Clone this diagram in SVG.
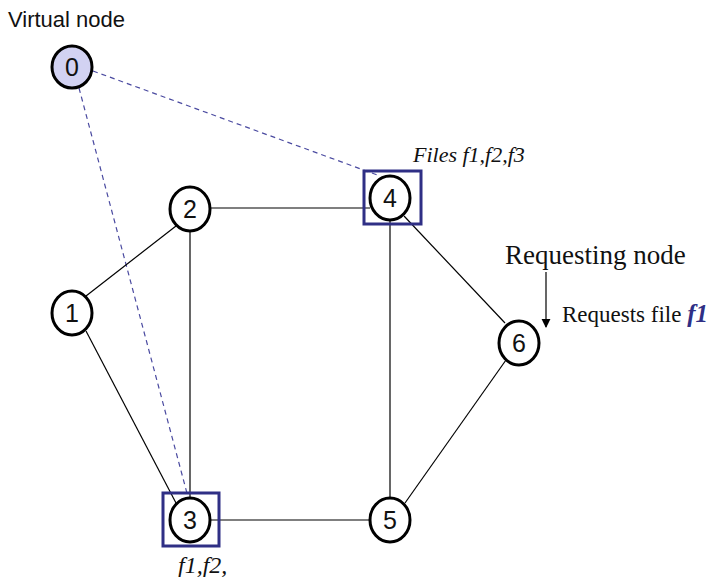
<svg xmlns="http://www.w3.org/2000/svg" width="726" height="577" viewBox="0 0 726 577">
<defs>
<marker id="arr" viewBox="0 0 10 10" refX="9" refY="5" markerWidth="9" markerHeight="10" markerUnits="userSpaceOnUse" orient="auto"><path d="M0,0 L10,5 L0,10 z" fill="#000"/></marker>
</defs>
<style>
.node{fill:#fff;stroke:#000;stroke-width:3}
.virt{fill:#d2d2f2;stroke:#000;stroke-width:3}
.lbl{font-family:"Liberation Sans",Arial,sans-serif;font-size:25px;text-anchor:middle;fill:#111}
.edge{stroke:#000;stroke-width:1.2;fill:none}
.dash{stroke:#4a4aa0;stroke-width:1.2;stroke-dasharray:5,4;fill:none}
.box{fill:none;stroke:#2f2f85;stroke-width:3}
.serif{font-family:"Liberation Serif","Times New Roman",serif;fill:#111}
</style>
<rect width="726" height="577" fill="#fff"/>
<g id="connectors">
<line class="dash" x1="93" y1="71" x2="380" y2="176"/>
<line class="dash" x1="79" y1="88" x2="188" y2="497"/>
<line class="edge" x1="211" y1="208" x2="370" y2="208"/>
<line class="edge" x1="190" y1="231" x2="190" y2="498"/>
<line class="edge" x1="86" y1="296" x2="176" y2="226"/>
<line class="edge" x1="86" y1="331" x2="176" y2="503"/>
<line class="edge" x1="210" y1="520" x2="369" y2="520"/>
<line class="edge" x1="390" y1="221" x2="390" y2="498"/>
<line class="edge" x1="404" y1="216" x2="505" y2="323"/>
<line class="edge" x1="405" y1="503" x2="506" y2="360"/>
<line class="edge" x1="546" y1="272" x2="546" y2="327" marker-end="url(#arr)"/>
</g>
<g id="node0"><ellipse class="virt" cx="72" cy="67" rx="20" ry="21"/><text class="lbl" x="72" y="76">0</text></g>
<g id="node1"><ellipse class="node" cx="72" cy="313" rx="20" ry="22"/><text class="lbl" x="72" y="322">1</text></g>
<g id="node2"><ellipse class="node" cx="190" cy="209" rx="20" ry="22"/><text class="lbl" x="190" y="218">2</text></g>
<g id="node3"><rect class="box" x="163" y="493" width="56" height="53"/><ellipse class="node" cx="190" cy="520" rx="20" ry="22"/><text class="lbl" x="190" y="529">3</text></g>
<g id="node4"><rect class="box" x="364" y="171" width="57" height="53"/><ellipse class="node" cx="390" cy="198" rx="20" ry="22"/><text class="lbl" x="390" y="207">4</text></g>
<g id="node5"><ellipse class="node" cx="390" cy="520" rx="20" ry="22"/><text class="lbl" x="390" y="529">5</text></g>
<g id="node6"><ellipse class="node" cx="519" cy="343" rx="20" ry="22"/><text class="lbl" x="519" y="352">6</text></g>
<g id="labels">
<text x="8" y="27" font-family="Liberation Sans, Arial, sans-serif" font-size="22" fill="#111">Virtual node</text>
<text class="serif" x="413" y="162" font-size="22" font-style="italic">Files f1,f2,f3</text>
<text class="serif" x="505" y="264" font-size="27">Requesting node</text>
<text class="serif" x="562" y="322" font-size="23">Requests file <tspan font-style="italic" font-weight="bold" fill="#2f2f85" font-size="25">f1</tspan></text>
<text class="serif" x="178" y="573" font-size="24" font-style="italic">f1,f2,</text>
</g>
</svg>
